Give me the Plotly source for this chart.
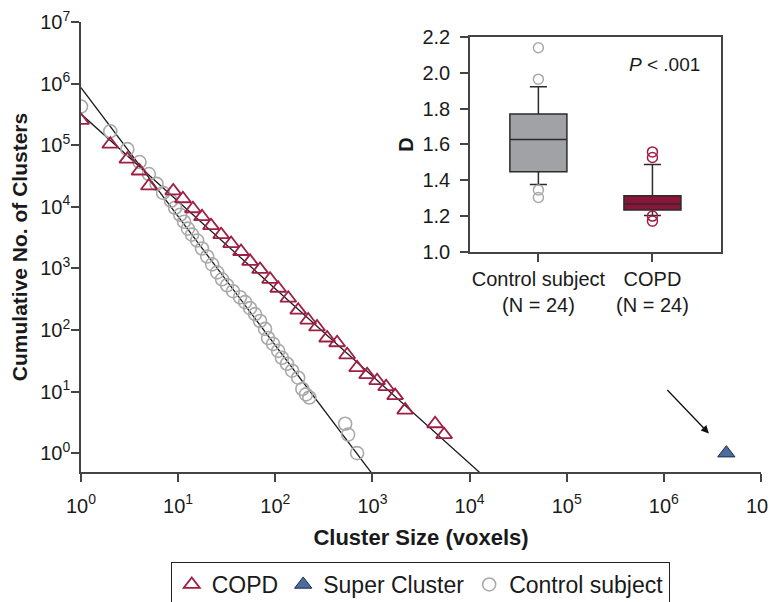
import numpy as np
import plotly.graph_objects as go

# ---------------- data ----------------
copd_size = [1, 2, 3, 4, 5, 8.9, 11.2, 14.2, 17.6, 21.8, 27.7, 35.1, 44.4, 55, 69.7,
             88.4, 107, 136, 172, 218, 269, 342, 433, 549, 695, 882, 1117, 1383,
             1713, 2172, 4420, 5470]
copd_count = [253000, 103800, 59400, 38100, 21800, 18100, 13500, 9290, 6900, 4940,
              3530, 2530, 1880, 1300, 963, 665, 476, 328, 210, 145, 112, 74, 62, 39.5,
              24.4, 18.8, 15, 12, 8.6, 5, 3, 2]

control_size = [1, 2, 3, 4, 5, 6, 7, 8.45, 9.3, 10.5, 11.5, 12.6, 13.9, 15.7, 17.6,
                19.9, 22.4, 25.2, 28.3, 31.9, 36.7, 43.4, 48.9, 55, 61.9, 69.7, 78.5,
                84.3, 94.9, 107, 117, 132, 149, 172, 190, 207, 224, 524, 562, 695]
control_count = [425000, 168000, 86200, 53200, 34000, 23500, 16800, 12500, 9640, 7430,
                 5730, 4420, 3530, 2830, 2100, 1560, 1160, 862, 665, 532, 426, 340, 283,
                 226, 181, 140, 104, 74, 59.5, 45.8, 35.3, 28.3, 21.8, 16.8, 11, 9, 8,
                 3, 2, 1]

super_size = [4.4e6]
super_count = [1]

# power-law fits: log10(N) = intercept + slope * log10(size)
copd_fit = {"intercept": 5.505, "slope": -1.418}
control_fit = {"intercept": 5.935, "slope": -2.092}
fit_log_range = [0, 4.6]

x_tickvals = [1, 10, 100, 1e3, 1e4, 1e5, 1e6, 1e7]
x_ticktext = ["10<sup>0</sup>", "10<sup>1</sup>", "10<sup>2</sup>", "10<sup>3</sup>",
              "10<sup>4</sup>", "10<sup>5</sup>", "10<sup>6</sup>", "10<sup>7</sup>"]
y_tickvals = [1, 10, 100, 1e3, 1e4, 1e5, 1e6, 1e7]
y_ticktext = x_ticktext

# inset box plot (fractal dimension D)
box_groups = ["Control subject<br>(N = 24)", "COPD<br>(N = 24)"]
box_q1 = [1.447, 1.234]
box_median = [1.627, 1.268]
box_q3 = [1.770, 1.313]
box_lowerfence = [1.376, 1.203]
box_upperfence = [1.921, 1.488]
control_outliers = [2.139, 1.964, 1.346, 1.304]
copd_outliers = [1.558, 1.527, 1.200, 1.172]
inset_yticks = [1.0, 1.2, 1.4, 1.6, 1.8, 2.0, 2.2]

# ---------------- style ----------------
FONT = "Liberation Sans, Arial, Helvetica, sans-serif"
MAROON = "#9e1f45"
MAROON_FILL = "#8a1538"
GRAY = "#a9a9a9"
GRAY_FILL = "#a0a2a5"
BLUE = "#4a6d9e"
AXC = "#444444"

fig = go.Figure()

# fit lines
for fit in (control_fit, copd_fit):
    lx = np.array(fit_log_range)
    fig.add_trace(go.Scatter(
        x=10 ** lx, y=10 ** (fit["intercept"] + fit["slope"] * lx),
        mode="lines", line=dict(color="#1a1a1a", width=1.3),
        showlegend=False, hoverinfo="skip", xaxis="x", yaxis="y"))

fig.add_trace(go.Scatter(
    x=control_size, y=control_count, mode="markers", name="Control subject",
    marker=dict(symbol="circle-open", size=13, color=GRAY, line=dict(width=1.6, color=GRAY)),
    showlegend=False, xaxis="x", yaxis="y"))

fig.add_trace(go.Scatter(
    x=copd_size, y=copd_count, mode="markers", name="COPD",
    marker=dict(symbol="triangle-up-open", size=14, color=MAROON, line=dict(width=1.8, color=MAROON)),
    xaxis="x", yaxis="y"))

fig.add_trace(go.Scatter(
    x=super_size, y=super_count, mode="markers", name="Super Cluster",
    marker=dict(symbol="triangle-up", size=15, color=BLUE, line=dict(width=1, color="#1c2b45")),
    xaxis="x", yaxis="y"))

# legend-only control (to keep legend order)
fig.add_trace(go.Scatter(
    x=[None], y=[None], mode="markers", name="Control subject",
    marker=dict(symbol="circle-open", size=13, color=GRAY, line=dict(width=1.6, color=GRAY)),
    xaxis="x", yaxis="y"))

# inset boxes
box_fill = [GRAY_FILL, MAROON_FILL]
for i in range(2):
    fig.add_trace(go.Box(
        x=[i], q1=[box_q1[i]], median=[box_median[i]], q3=[box_q3[i]],
        lowerfence=[box_lowerfence[i]], upperfence=[box_upperfence[i]],
        fillcolor=box_fill[i], line=dict(color="#2b2b2b", width=1.5),
        width=0.5, whiskerwidth=0.3, boxpoints=False, showlegend=False,
        xaxis="x2", yaxis="y2"))

fig.add_trace(go.Scatter(
    x=[0] * len(control_outliers), y=control_outliers, mode="markers",
    marker=dict(symbol="circle-open", size=10, color=GRAY, line=dict(width=1.5, color=GRAY)),
    showlegend=False, xaxis="x2", yaxis="y2"))
fig.add_trace(go.Scatter(
    x=[1] * len(copd_outliers), y=copd_outliers, mode="markers",
    marker=dict(symbol="circle-open", size=10, color=MAROON, line=dict(width=1.5, color=MAROON)),
    showlegend=False, xaxis="x2", yaxis="y2"))

fig.update_layout(
    width=776, height=620,
    margin=dict(l=73, r=23, t=14, b=156),
    paper_bgcolor="white", plot_bgcolor="white",
    font=dict(family=FONT, color="#1a1a1a", size=20),
    xaxis=dict(
        type="log", range=[0, 7], tickvals=x_tickvals, ticktext=x_ticktext,
        showline=True, linecolor=AXC, linewidth=1.5, ticks="outside", ticklen=8,
        tickcolor=AXC, tickwidth=1.5, showgrid=False, zeroline=False,
        tickfont=dict(size=20), ticklabelstandoff=7, ticklabeloverflow="allow",
        title=dict(text="<b>Cluster Size (voxels)</b>", font=dict(size=22), standoff=14),
        automargin=False),
    yaxis=dict(
        type="log", range=[-0.306, 7], tickvals=y_tickvals, ticktext=y_ticktext,
        showline=True, linecolor=AXC, linewidth=1.5, ticks="outside", ticklen=8,
        tickcolor=AXC, tickwidth=1.5, showgrid=False, zeroline=False,
        tickfont=dict(size=20), ticklabelstandoff=-3, ticklabeloverflow="allow",
        title=dict(text="<b>Cumulative No. of Clusters</b>", font=dict(size=21), standoff=22),
        automargin=False),
    xaxis2=dict(
        domain=[0.572, 0.941], anchor="y2", range=[-0.6, 1.6],
        tickvals=[0, 1], ticktext=box_groups,
        showline=True, mirror=True, linecolor=AXC, linewidth=1.5,
        ticks="outside", ticklen=8, tickcolor=AXC, tickwidth=1.5,
        showgrid=False, zeroline=False, tickfont=dict(size=20),
        ticklabelstandoff=0, automargin=False),
    yaxis2=dict(
        domain=[0.489, 0.967], anchor="x2", range=[1.0, 2.2],
        tickvals=inset_yticks, tickformat=".1f",
        showline=True, mirror=True, linecolor=AXC, linewidth=1.5,
        ticks="outside", ticklen=8, tickcolor=AXC, tickwidth=1.5,
        showgrid=False, zeroline=False, tickfont=dict(size=20), ticklabelstandoff=6,
        title=dict(text="<b>D</b>", font=dict(size=20), standoff=3), automargin=False),
    legend=dict(
        orientation="h", x=0.132, xanchor="left", y=-0.2, yanchor="top",
        bordercolor="#222", borderwidth=1, font=dict(size=23), bgcolor="white",
        itemwidth=30, tracegroupgap=0),
    annotations=[
        dict(text="<i>P</i> < .001", xref="x2 domain", yref="y2 domain",
             x=0.925, y=0.93, xanchor="right", yanchor="top", showarrow=False,
             font=dict(size=19)),
        dict(x=np.log10(super_size[0]) - 0.18, y=np.log10(super_count[0]) + 0.32,
             xref="x", yref="y", ax=-43, ay=-45, text="", showarrow=True,
             arrowhead=2, arrowsize=1.2, arrowwidth=1.3, arrowcolor="#111"),
    ],
)

fig.write_html("out.html")
